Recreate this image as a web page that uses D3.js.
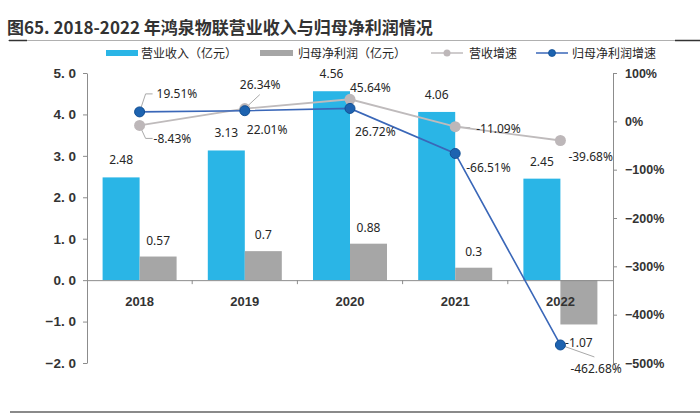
<!DOCTYPE html>
<html><head><meta charset="utf-8">
<script src="https://cdn.jsdelivr.net/npm/d3@7"></script>
<style>
html,body{margin:0;padding:0;background:#fff;}
svg{display:block;}
</style></head>
<body>
<svg id="c" width="700" height="414"></svg>
<script>
// ---- data ----
const years = ["2018","2019","2020","2021","2022"];
const revenue = [2.48, 3.13, 4.56, 4.06, 2.45];          // 营业收入（亿元）
const netProfit = [0.57, 0.7, 0.88, 0.3, -1.07];          // 归母净利润（亿元）
const revenueGrowth = [-8.43, 26.34, 45.64, -11.09, -39.68];   // 营收增速 %
const profitGrowth = [19.51, 22.01, 26.72, -66.51, -462.68];  // 归母净利润增速 %
const leftTicks = [-2, -1, 0, 1, 2, 3, 4, 5];
const rightTicks = [-500, -400, -300, -200, -100, 0, 100];
const seriesNames = ["营业收入（亿元）", "归母净利润（亿元）", "营收增速", "归母净利润增速"];
const titleText = "图65. 2018-2022 年鸿泉物联营业收入与归母净利润情况";

// ---- layout / style (label offsets relative to their point) ----
const revLabelOff = [[14,18],[-5,-20],[0,-7],[21,6],[8,20]];
const proLabelOff = [[17,-14],[2,23],[5,28],[11,19],[10,28]];
const revLeader = [[[6,-13],[13,-13]] /*dummy*/, null, null, null, null];

const C = {blue:"#2AB5E6", grey:"#A6A6A6", revLine:"#BFBBBC", revDot:"#BDB7B9",
           proLine:"#3A67B8", proDot:"#1D63B0", proDotStroke:"#124F93",
           axis:"#8C8C8C", text:"#262626", tick:"#333"};
const cjk = "'Noto Sans CJK SC','Noto Sans',sans-serif";
const lab = "'Noto Sans','Noto Sans CJK SC',sans-serif";

const svg = d3.select("#c");

// title
svg.append("text").attr("x",7).attr("y",34).attr("font-family",cjk).attr("font-weight","bold")
  .attr("font-size",17).attr("fill","#333").text(titleText);
svg.append("line").attr("x1",8).attr("x2",700).attr("y1",40.5).attr("y2",40.5).attr("stroke","#b0b0b0").attr("stroke-width",1);
svg.append("line").attr("x1",9).attr("x2",27).attr("y1",40.5).attr("y2",40.5).attr("stroke","#333").attr("stroke-width",1.5);
svg.append("line").attr("x1",675).attr("x2",700).attr("y1",40.5).attr("y2",40.5).attr("stroke","#333").attr("stroke-width",1.5);
// bottom rule
svg.append("line").attr("x1",10).attr("x2",700).attr("y1",412).attr("y2",412).attr("stroke","#8a8a8a").attr("stroke-width",2);

// scales
const x = d3.scaleBand().domain(years).range([87,613]).padding(0);
const bw = x.bandwidth();
const x1 = d3.scaleBand().domain(["rev","np"]).range([0,bw]).paddingInner(0).paddingOuter(0.4216);
const yL = d3.scaleLinear().domain([-2,5]).range([363,73]);
const yR = d3.scaleLinear().domain([-500,100]).range([363,73]);
const cx = (i) => x(years[i]) + bw/2;

// legend
const lg = svg.append("g").attr("font-family",cjk).attr("font-size",12).attr("fill",C.text);
lg.append("rect").attr("x",106).attr("y",50).attr("width",32).attr("height",6).attr("fill",C.blue);
lg.append("text").attr("x",141).attr("y",57.5).text(seriesNames[0]);
lg.append("rect").attr("x",260).attr("y",50).attr("width",33).attr("height",6).attr("fill",C.grey);
lg.append("text").attr("x",298).attr("y",57.5).text(seriesNames[1]);
lg.append("line").attr("x1",431).attr("x2",463).attr("y1",53).attr("y2",53).attr("stroke",C.revLine).attr("stroke-width",1.5);
lg.append("circle").attr("cx",447).attr("cy",53).attr("r",3.5).attr("fill",C.revDot);
lg.append("text").attr("x",469).attr("y",57.5).text(seriesNames[2]);
lg.append("line").attr("x1",536).attr("x2",568).attr("y1",53).attr("y2",53).attr("stroke",C.proLine).attr("stroke-width",1.5);
lg.append("circle").attr("cx",552).attr("cy",53).attr("r",3.5).attr("fill",C.proDot).attr("stroke",C.proDotStroke).attr("stroke-width",0.8);
lg.append("text").attr("x",572).attr("y",57.5).text(seriesNames[3]);

// axes
const fmtL = (d) => d3.format(".1f")(d).replace(".", ". ");
const gL = svg.append("g").attr("transform","translate(87,0)")
  .call(d3.axisLeft(yL).tickValues(leftTicks).tickSize(4).tickSizeOuter(0).tickPadding(7).tickFormat(fmtL));
const gR = svg.append("g").attr("transform","translate(613,0)")
  .call(d3.axisRight(yR).tickValues(rightTicks).tickSize(4).tickSizeOuter(0).tickPadding(8).tickFormat(d => d3.format("d")(d) + "%"));
[gL,gR].forEach(g => {
  g.select(".domain").attr("stroke",C.axis);
  g.selectAll(".tick line").attr("stroke",C.axis);
  g.selectAll(".tick text").attr("font-family","'Liberation Sans',Arial,sans-serif").attr("font-weight","bold").attr("fill",C.tick);
});
gL.selectAll(".tick text").attr("font-size",13.5);
gR.selectAll(".tick text").attr("font-size",12.5);

// bars
const bars = svg.append("g");
bars.selectAll(".rev").data(revenue).join("rect")
  .attr("x",(d,i)=>x(years[i])+x1("rev")).attr("width",x1.bandwidth())
  .attr("y",d=>yL(Math.max(0,d))).attr("height",d=>Math.abs(yL(d)-yL(0))).attr("fill",C.blue);
bars.selectAll(".np").data(netProfit).join("rect")
  .attr("x",(d,i)=>x(years[i])+x1("np")).attr("width",x1.bandwidth())
  .attr("y",d=>yL(Math.max(0,d))).attr("height",d=>Math.abs(yL(d)-yL(0))).attr("fill",C.grey);

// x axis (at zero)
const gX = svg.append("g").attr("transform",`translate(0,${yL(0)})`)
  .call(d3.axisBottom(x).tickSize(0).tickPadding(17));
gX.select(".domain").attr("stroke",C.axis);
gX.selectAll(".tick text").attr("font-family","'Liberation Sans',Arial,sans-serif").attr("font-weight","bold").attr("font-size",13).attr("fill",C.tick);
gX.selectAll(".sep").data(years.slice(1)).join("line")
  .attr("x1",d=>x(d)).attr("x2",d=>x(d)).attr("y1",0).attr("y2",4).attr("stroke",C.axis);

// bar labels
const bl = svg.append("g").attr("font-family",lab).attr("font-size",12).attr("fill",C.text).attr("text-anchor","middle");
bl.selectAll(".rl").data(revenue).join("text")
  .attr("x",(d,i)=>x(years[i])+x1("rev")+x1.bandwidth()/2).attr("y",d=>yL(d)-13).text(d=>d);
bl.selectAll(".nl").data(netProfit).join("text")
  .attr("x",(d,i)=>x(years[i])+x1("np")+x1.bandwidth()/2)
  .attr("y",d=> d>=0 ? yL(d)-12 : yL(d)+23).text(d=>d);

// leader lines (relative to point)
const leaders = svg.append("g").attr("stroke","#a9a9a9").attr("stroke-width",1).attr("fill","none");
const addLeader = (px,py,pts) => leaders.append("polyline")
  .attr("points",[[px,py]].concat(pts.map(p=>[px+p[0],py+p[1]])).map(p=>p.join(",")).join(" "));
addLeader(cx(0), yR(profitGrowth[0]), [[6,-18],[13,-18]]);
addLeader(cx(0), yR(revenueGrowth[0]), [[6,13],[13,13]]);
addLeader(cx(1), yR(revenueGrowth[1]), [[15,-14]]);
addLeader(cx(3), yR(revenueGrowth[3]), [[15,1]]);
addLeader(cx(4), yR(profitGrowth[4]), [[34,12]]);

// lines
const line = d3.line().x((d,i)=>cx(i)).y(d=>yR(d));
svg.append("path").datum(revenueGrowth).attr("d",line).attr("fill","none").attr("stroke",C.revLine).attr("stroke-width",1.8);
svg.append("g").selectAll("circle").data(revenueGrowth).join("circle")
  .attr("cx",(d,i)=>cx(i)).attr("cy",d=>yR(d)).attr("r",5.5).attr("fill",C.revDot);
svg.append("path").datum(profitGrowth).attr("d",line).attr("fill","none").attr("stroke",C.proLine).attr("stroke-width",1.6);
svg.append("g").selectAll("circle").data(profitGrowth).join("circle")
  .attr("cx",(d,i)=>cx(i)).attr("cy",d=>yR(d)).attr("r",5).attr("fill",C.proDot).attr("stroke",C.proDotStroke).attr("stroke-width",1);

// growth labels
const gl = svg.append("g").attr("font-family",lab).attr("font-size",12).attr("fill",C.text);
gl.selectAll(".rg").data(revenueGrowth).join("text")
  .attr("x",(d,i)=>cx(i)+revLabelOff[i][0]).attr("y",(d,i)=>yR(d)+revLabelOff[i][1]).text(d=>d.toFixed(2)+"%");
gl.selectAll(".pg").data(profitGrowth).join("text")
  .attr("x",(d,i)=>cx(i)+proLabelOff[i][0]).attr("y",(d,i)=>yR(d)+proLabelOff[i][1]).text(d=>d.toFixed(2)+"%");
</script>
</body></html>
